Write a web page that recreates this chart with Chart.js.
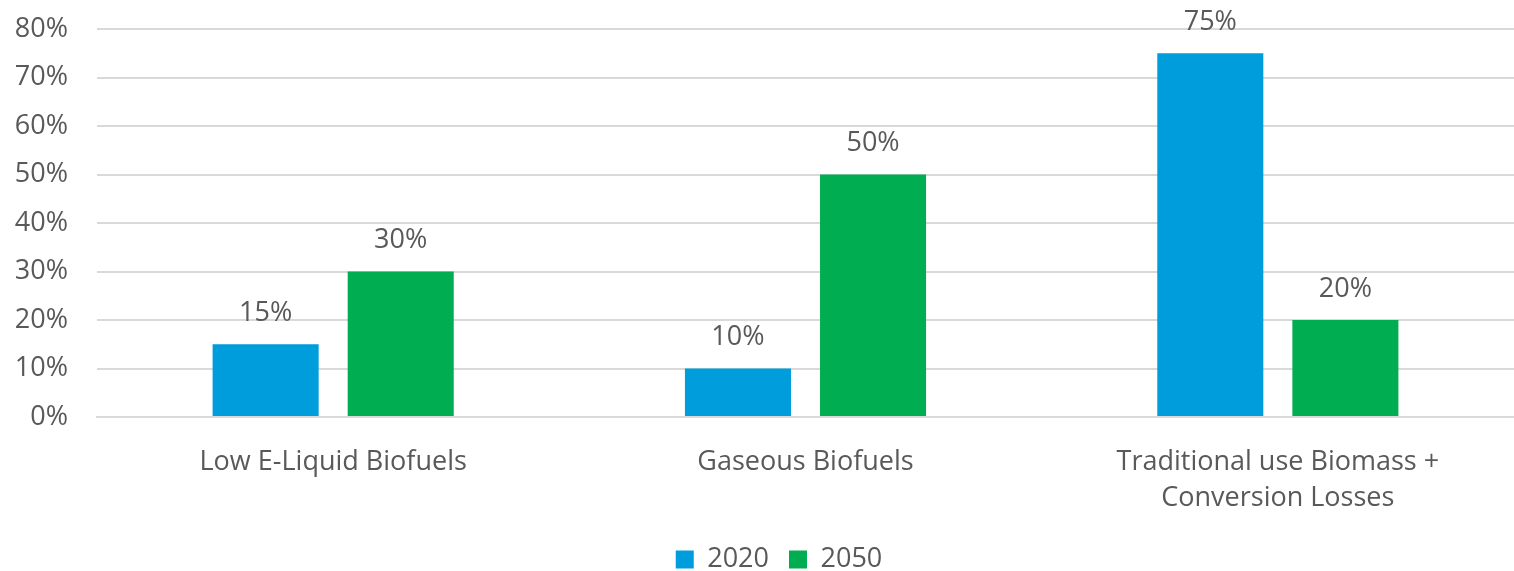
<!DOCTYPE html>
<html>
<head>
<meta charset="utf-8">
<script src="https://cdn.jsdelivr.net/npm/chart.js@4.4.1/dist/chart.umd.min.js"></script>
<style>
  body { margin: 0; background: #fff; }
  #wrap { width: 1514px; height: 571px; }
</style>
</head>
<body>
<div id="wrap"><canvas id="myChart" width="1514" height="571"></canvas></div>
<script>
const categories = [
  'Low E-Liquid Biofuels',
  'Gaseous Biofuels',
  ['Traditional use Biomass +', 'Conversion Losses']
];
const values2020 = [15, 10, 75];
const values2050 = [30, 50, 20];
const yTicks = [0, 10, 20, 30, 40, 50, 60, 70, 80];

const textColor = '#595959';
const fontFamily = '"Open Sans", "Liberation Sans", sans-serif';
const fontSize = 27;

// draws the value labels above each bar
const barLabels = {
  id: 'barLabels',
  afterLayout(chart) {
    // legend sits a bit right of the canvas centre in the original
    chart.legend.left += 44;
    chart.legend.top -= 10;
  },
  afterDatasetsDraw(chart) {
    const ctx = chart.ctx;
    ctx.save();
    ctx.font = fontSize + 'px ' + fontFamily;
    ctx.fillStyle = textColor;
    ctx.textAlign = 'center';
    ctx.textBaseline = 'middle';
    chart.data.datasets.forEach((ds, i) => {
      chart.getDatasetMeta(i).data.forEach((bar, j) => {
        ctx.fillText(ds.data[j] + '%', bar.x, bar.y - 31);
      });
    });
    ctx.restore();
  }
};

const ctx = document.getElementById('myChart').getContext('2d');
const myChart = new Chart(ctx, {
  type: 'bar',
  data: {
    labels: categories,
    datasets: [
      {
        label: '2020',
        data: values2020,
        backgroundColor: '#009ddc',
        borderWidth: 0,
        barPercentage: 0.785,
        categoryPercentage: 0.572
      },
      {
        label: '2050',
        data: values2050,
        backgroundColor: '#00ad50',
        borderWidth: 0,
        barPercentage: 0.785,
        categoryPercentage: 0.572
      }
    ]
  },
  options: {
    responsive: false,
    animation: false,
    layout: { padding: { top: 29, right: 0, left: 0, bottom: -22 } },
    plugins: {
      tooltip: { enabled: false },
      legend: {
        position: 'bottom',
        labels: {
          color: textColor,
          font: { family: fontFamily, size: fontSize },
          boxWidth: 18,
          boxHeight: 18,
          padding: 20
        }
      }
    },
    scales: {
      x: {
        grid: { display: false },
        border: { color: '#d9d9d9', width: 2 },
        ticks: {
          color: textColor,
          font: { family: fontFamily, size: fontSize, lineHeight: 1.35 },
          padding: 19,
          maxRotation: 0
        }
      },
      y: {
        min: 0,
        max: 80,
        afterFit(scale) {
          scale.width = 97;
          scale.paddingTop = 0;
        },
        afterBuildTicks(scale) { scale.ticks = yTicks.map(v => ({ value: v })); },
        grid: { color: '#d9d9d9', lineWidth: 2, drawTicks: false },
        border: { display: false },
        ticks: {
          color: textColor,
          font: { family: fontFamily, size: fontSize },
          padding: 29,
          callback: v => v + '%'
        }
      }
    }
  },
  plugins: [barLabels]
});
</script>
</body>
</html>
